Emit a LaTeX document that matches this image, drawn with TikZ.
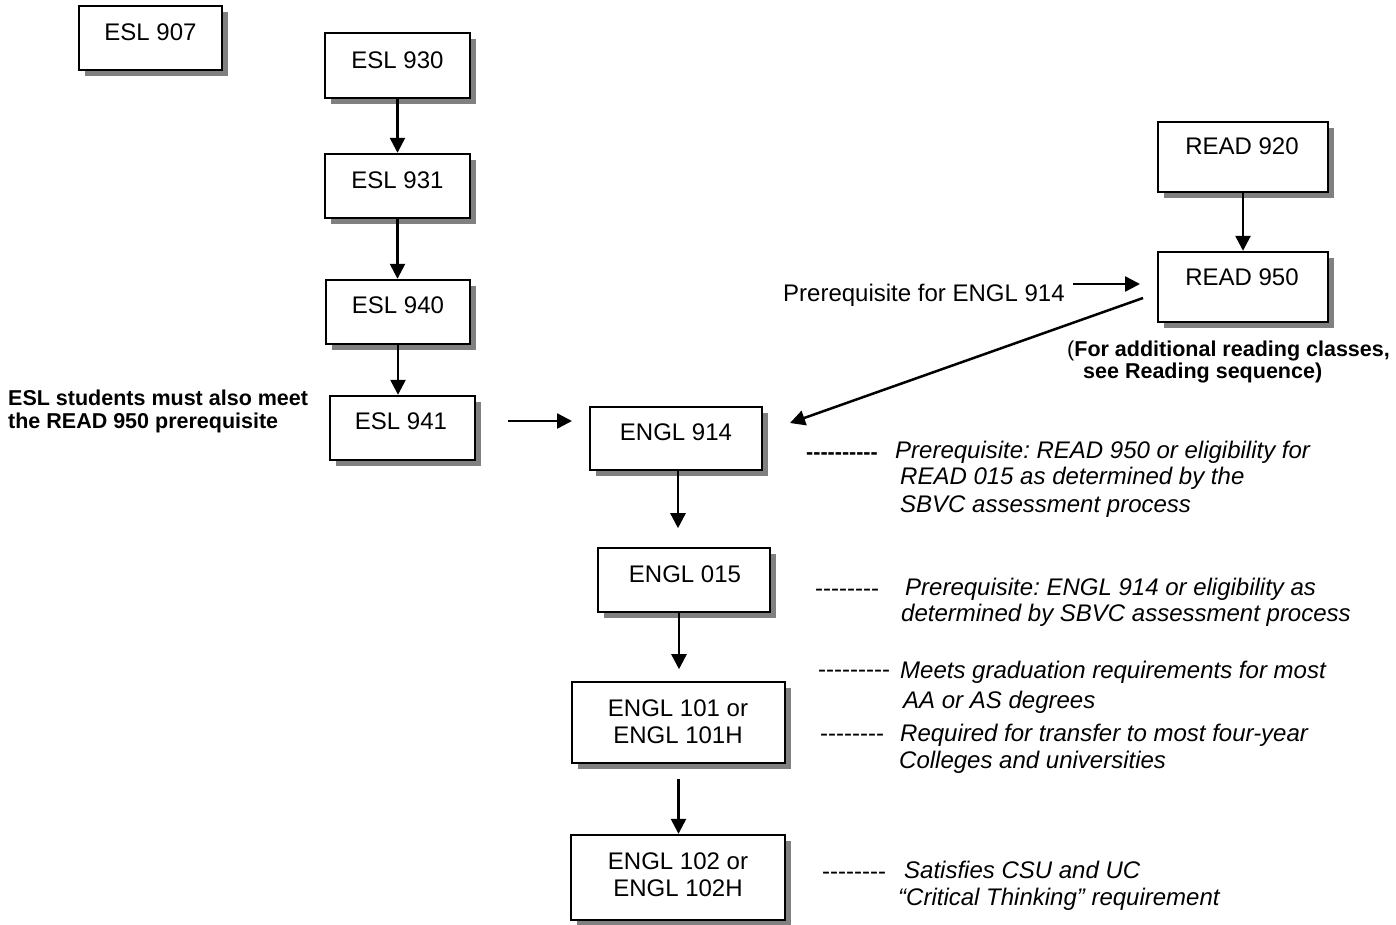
\documentclass[tikz,border=0pt]{standalone}
\usepackage{fontspec}
\setmainfont{Liberation Sans}
\usetikzlibrary{arrows.meta,shadows}
\definecolor{shadowgray}{HTML}{808080}
\frenchspacing
\tikzset{
  box/.style={draw=black, line width=2.4pt, fill=white, inner sep=0pt,
    drop shadow={shadow xshift=6pt, shadow yshift=-6pt, fill=shadowgray, opacity=1}},
  arr/.style={line width=2.5pt, -{Triangle[length=15pt,width=15pt]}},
  btxt/.style={inner sep=0pt, anchor=base, font=\fontsize{24}{27}\selectfont},
  ntxt/.style={inner sep=0pt, anchor=base west, font=\fontsize{24}{27}\selectfont},
  itxt/.style={inner sep=0pt, anchor=base west, font=\fontsize{24}{27}\selectfont\itshape},
  bold/.style={inner sep=0pt, anchor=base west, font=\fontsize{21.5}{24}\selectfont\bfseries},
}
\begin{document}
\begin{tikzpicture}[x=1pt,y=-1pt]
\useasboundingbox (0,0) rectangle (1396,924);

% boxes
\node[box, minimum width=143pt, minimum height=64pt] (e907) at (150.5,38) {};
\node[box, minimum width=145pt, minimum height=65pt] (e930) at (397.5,65.5) {};
\node[box, minimum width=145pt, minimum height=64pt] (e931) at (397.5,186) {};
\node[box, minimum width=144pt, minimum height=64pt] (e940) at (398,312) {};
\node[box, minimum width=145pt, minimum height=64pt] (e941) at (402.5,428) {};
\node[box, minimum width=172pt, minimum height=63pt] (g914) at (676,438.5) {};
\node[box, minimum width=172pt, minimum height=64pt] (g015) at (684,580) {};
\node[box, minimum width=213pt, minimum height=81pt] (g101) at (678.5,722.5) {};
\node[box, minimum width=214pt, minimum height=85pt] (g102) at (678,877.5) {};
\node[box, minimum width=170pt, minimum height=70pt] (r920) at (1243,157) {};
\node[box, minimum width=170pt, minimum height=70pt] (r950) at (1243,287) {};

% box texts
\node[btxt] (t907) at (150.5,40) {ESL 907};
\node[btxt] (t930) at (397.5,68) {ESL 930};
\node[btxt] (t931) at (397.5,188) {ESL 931};
\node[btxt] (t940) at (398,313) {ESL 940};
\node[btxt] (t941) at (401,429) {ESL 941};
\node[btxt] (t914) at (676,440) {ENGL 914};
\node[btxt] (t015) at (685,582) {ENGL 015};
\node[btxt] (t101a) at (678,716) {ENGL 101 or};
\node[btxt] (t101b) at (678,743) {ENGL 101H};
\node[btxt] (t102a) at (678,869) {ENGL 102 or};
\node[btxt] (t102b) at (678,896) {ENGL 102H};
\node[btxt] (t920) at (1242,154) {READ 920};
\node[btxt] (t950) at (1242,285) {READ 950};

% side texts
\node[bold] (esla) at (8,405) {ESL students must also meet};
\node[bold] (eslb) at (8,428) {the READ 950 prerequisite};
\node[ntxt] (prq) at (783,301) {Prerequisite for ENGL 914};
\node[bold] (fa) at (1067,356) {\mdseries(\bfseries For additional reading classes,};
\node[bold] (fb) at (1083,378) {see Reading sequence)};

% annotations
\node[bold] (d1) at (806,459) {-{}-{}-{}-{}-{}-{}-{}-{}-{}-};
\node[itxt] (a1a) at (895,458) {Prerequisite: READ 950 or eligibility for};
\node[itxt] (a1b) at (900,484) {READ 015 as determined by the};
\node[itxt] (a1c) at (900,512) {SBVC assessment process};

\node[ntxt] (d2) at (815,596) {-{}-{}-{}-{}-{}-{}-{}-};
\node[itxt] (a2a) at (905,595) {Prerequisite: ENGL 914 or eligibility as};
\node[itxt] (a2b) at (901,621) {determined by SBVC assessment process};

\node[ntxt] (d3) at (818,677) {-{}-{}-{}-{}-{}-{}-{}-{}-};
\node[itxt] (a3a) at (900,678) {Meets graduation requirements for most};
\node[itxt] (a3b) at (903,708) {AA or AS degrees};

\node[ntxt] (d4) at (820,741) {-{}-{}-{}-{}-{}-{}-{}-};
\node[itxt] (a4a) at (900,741) {Required for transfer to most four-year};
\node[itxt] (a4b) at (899,768) {Colleges and universities};

\node[ntxt] (d5) at (822,879) {-{}-{}-{}-{}-{}-{}-{}-};
\node[itxt] (a5a) at (904,878) {Satisfies CSU and UC};
\node[itxt] (a5b) at (898,905) {“Critical Thinking” requirement};

% free-end coordinates
\coordinate (c941) at (508,421);
\coordinate (c914l) at (572,421);
\coordinate (c950) at (1143,298);
\coordinate (c914r) at (790,423);
\coordinate (cprq) at (1073,284);
\coordinate (c950l) at (1140,284);

% connectors
\draw[arr] (e930.south) -- (e931.north);
\draw[arr] (e931.south) -- (e931.south |- e940.north);
\draw[arr] (e940.south) -- (e940.south |- e941.north);
\draw[arr] (c941) -- (c914l);
\draw[arr] (c950) -- (c914r);
\draw[arr] (cprq) -- (c950l);
\draw[arr] (r920.south) -- (r950.north);
\draw[arr] ([xshift=2pt]g914.south) -- ++(0,57);
\draw[arr] (g015.south -| 679,0) -- ++(0,56);
\draw[arr] ([yshift=-15pt]g101.south) -- (g101.south |- g102.north);
\end{tikzpicture}
\end{document}
